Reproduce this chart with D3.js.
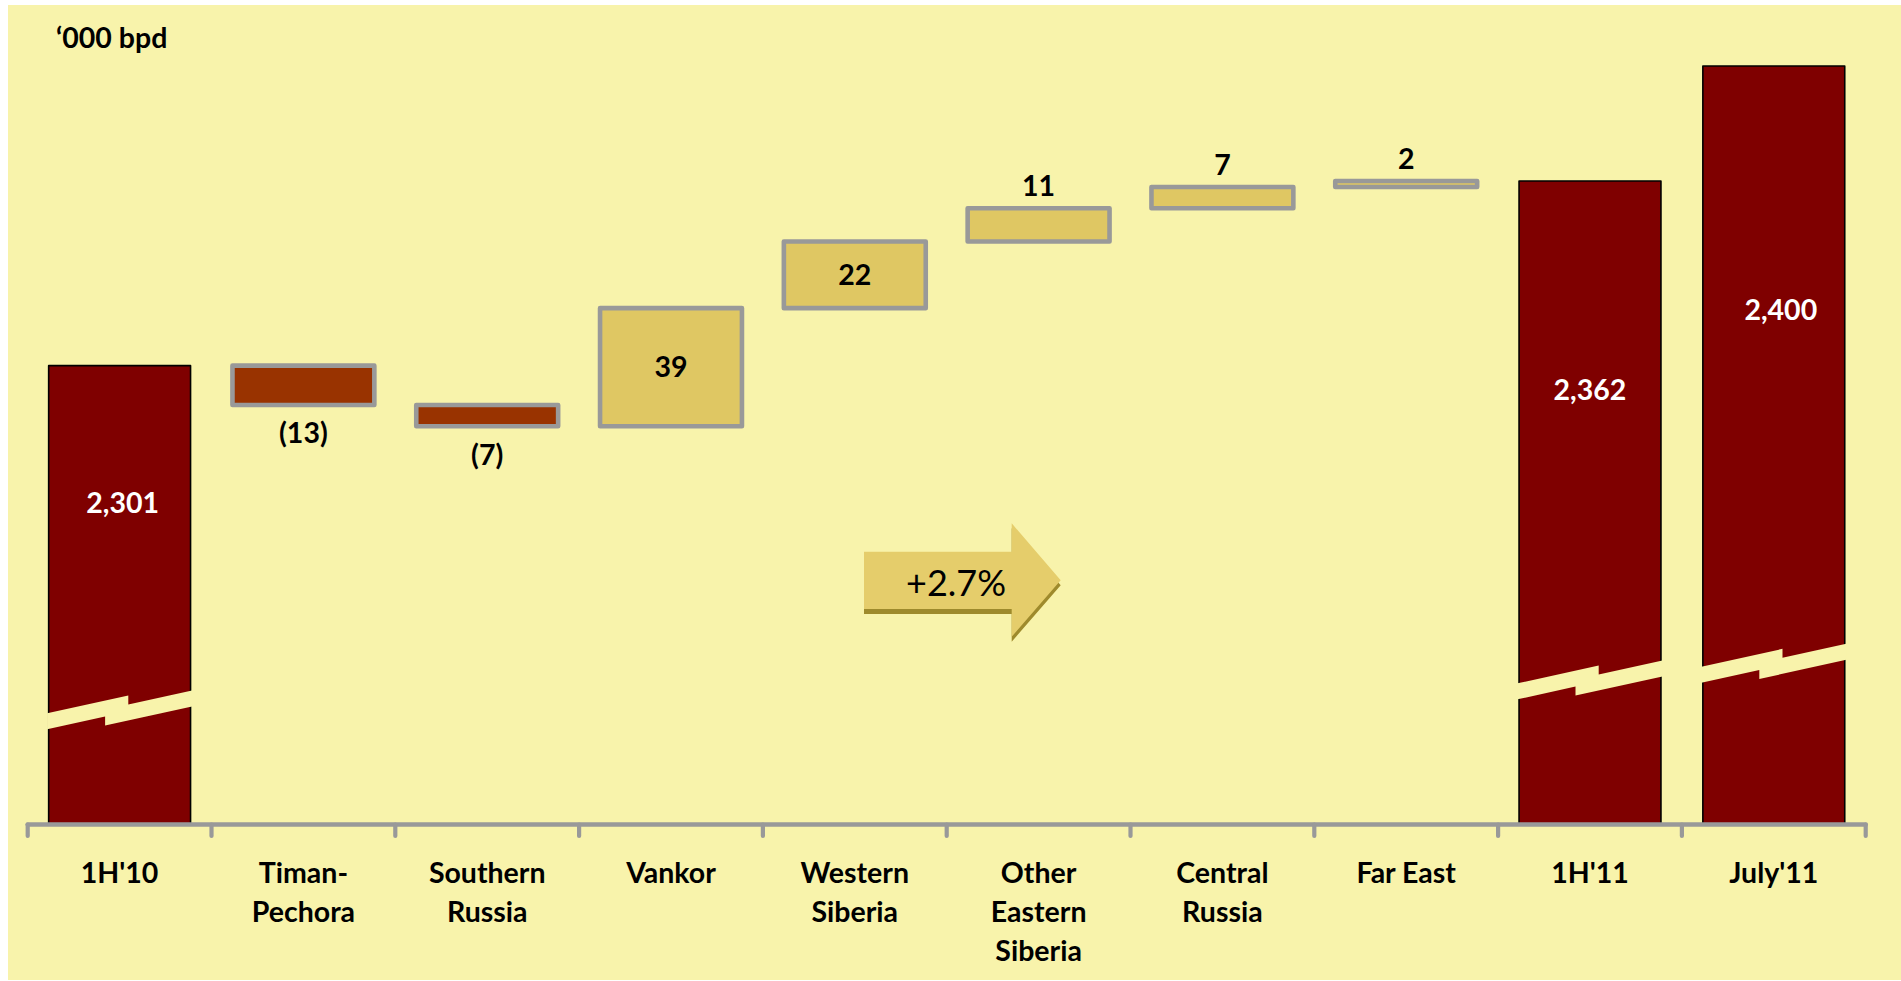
<!DOCTYPE html>
<html>
<head>
<meta charset="utf-8">
<script src="https://cdn.jsdelivr.net/npm/d3@7"></script>
<style>
  html, body { margin: 0; padding: 0; background: #ffffff; }
  svg { display: block; }
  text { font-family: Lato, "Open Sans", sans-serif; }
</style>
</head>
<body>
<svg id="chart" width="1901" height="981"></svg>
<script>
// ---------------- DATA ----------------
const categories = ["1H'10", "Timan-Pechora", "Southern Russia", "Vankor", "Western Siberia",
                    "Other Eastern Siberia", "Central Russia", "Far East", "1H'11", "July'11"];
const categoryLines = [["1H'10"], ["Timan-", "Pechora"], ["Southern", "Russia"], ["Vankor"],
                       ["Western", "Siberia"], ["Other", "Eastern", "Siberia"], ["Central", "Russia"],
                       ["Far East"], ["1H'11"], ["July'11"]];
const values = [2301, -13, -7, 39, 22, 11, 7, 2, 2362, 2400];
const barKinds = ["total", "delta", "delta", "delta", "delta", "delta", "delta", "delta", "total", "total"];
const valueLabels = ["2,301", "(13)", "(7)", "39", "22", "11", "7", "2", "2,362", "2,400"];
const unitLabel = "\u2018000 bpd";
const growthLabel = "+2.7%";
const axisBase = 2149.4;   // value at the (broken) baseline
const axisTop = 2400;

// ---------------- LAYOUT / STYLE ----------------
const W = 1901, H = 981;
const colors = {
  page: "#F8F3AB", total: "#7F0000", neg: "#993300", pos: "#DFC763",
  deltaStroke: "#999999", axis: "#999999", arrow: "#E5CD6B", arrowShadow: "#9E8A2C"
};
const fontSize = 28.5;
const plot = { left: 27.7, right: 1865.7, base: 824.5, top: 66 };
// break band centres (pixel y at bar's left edge) for total bars, and total label baselines
const totalLayout = {
  0: { breakY: 721.3, labelY: 513, dx: 3 },
  8: { breakY: 691.3, labelY: 400, dx: 0 },
  9: { breakY: 674.7, labelY: 320, dx: 7 }
};

const svg = d3.select("#chart");

svg.append("rect").attr("x", 8).attr("y", 5).attr("width", W - 8).attr("height", 975)
  .attr("fill", colors.page);

const x = d3.scaleBand().domain(categories).range([plot.left, plot.right])
  .paddingInner(0.228).paddingOuter(0.114);
const y = d3.scaleLinear().domain([axisBase, axisTop]).range([plot.base, plot.top]);

// waterfall computation
let running = 0;
const bars = categories.map((c, i) => {
  let lo, hi;
  if (barKinds[i] === "total") {
    running = values[i];
    lo = axisBase; hi = values[i];
  } else {
    const start = running;
    running += values[i];
    lo = Math.min(start, running); hi = Math.max(start, running);
  }
  return { cat: c, i, lo, hi, v: values[i], kind: barKinds[i], label: valueLabels[i] };
});

const g = svg.append("g");

// bars
g.selectAll("rect.bar").data(bars).join("rect")
  .attr("class", "bar")
  .attr("x", d => x(d.cat))
  .attr("width", x.bandwidth())
  .attr("y", d => y(d.hi))
  .attr("height", d => y(d.lo) - y(d.hi))
  .attr("fill", d => d.kind === "total" ? colors.total : (d.v < 0 ? colors.neg : colors.pos))
  .attr("stroke", d => d.kind === "total" ? "#000000" : colors.deltaStroke)
  .attr("stroke-width", d => d.kind === "total" ? 1.6 : 4.6)
  .attr("stroke-linejoin", "round");

// axis break bands on total bars
const slope = 0.22, thick = 16, step = 9;
bars.filter(d => d.kind === "total").forEach(d => {
  const xl = x(d.cat) - 1.5, w = x.bandwidth() + 3;
  const yc = totalLayout[d.i].breakY;
  const u = yc - thick / 2, l = yc + thick / 2;
  const su = 0.56 * w, sl = 0.40 * w;
  const pts = [
    [xl, u], [xl + su, u - slope * su], [xl + su, u - slope * su + step], [xl + w, u - slope * w + step],
    [xl + w, l - slope * w + step], [xl + sl, l - slope * sl + step], [xl + sl, l - slope * sl], [xl, l]
  ];
  g.append("path").attr("d", "M" + pts.map(p => p.join(",")).join("L") + "Z")
    .attr("fill", colors.page);
});

// axis
const axisG = svg.append("g");
axisG.append("line").attr("x1", plot.left).attr("x2", plot.right)
  .attr("y1", plot.base).attr("y2", plot.base)
  .attr("stroke", colors.axis).attr("stroke-width", 4.6).attr("stroke-linecap", "round");
const tickXs = categories.map(c => x(c) - x.step() * x.paddingInner() / 2);
tickXs.push(plot.right);
axisG.selectAll("line.tick").data(tickXs).join("line")
  .attr("class", "tick")
  .attr("x1", d => d).attr("x2", d => d)
  .attr("y1", plot.base).attr("y2", plot.base + 11.5)
  .attr("stroke", colors.axis).attr("stroke-width", 4.2).attr("stroke-linecap", "round");

// category labels
const catG = svg.append("g");
categories.forEach((c, i) => {
  const t = catG.append("text")
    .attr("x", x(c) + x.bandwidth() / 2)
    .attr("y", 883)
    .attr("text-anchor", "middle")
    .attr("font-size", fontSize).attr("font-weight", 700).attr("fill", "#000");
  categoryLines[i].forEach((line, k) => {
    t.append("tspan").attr("x", x(c) + x.bandwidth() / 2).attr("dy", k === 0 ? 0 : 39).text(line);
  });
});

// value labels
bars.forEach(d => {
  const cx = x(d.cat) + x.bandwidth() / 2;
  let ty, fill = "#000", dx = 0;
  if (d.kind === "total") {
    ty = totalLayout[d.i].labelY; fill = "#fff"; dx = totalLayout[d.i].dx;
  } else if (d.v < 0) {
    ty = y(d.lo) + 38.5;
  } else if (y(d.lo) - y(d.hi) > 40) {
    ty = (y(d.lo) + y(d.hi)) / 2 + 10;
  } else {
    ty = y(d.hi) - 12;
  }
  svg.append("text").attr("x", cx + dx).attr("y", ty)
    .attr("text-anchor", "middle").attr("font-size", fontSize).attr("font-weight", 700)
    .attr("fill", fill).text(d.label);
});

// unit label
svg.append("text").attr("x", 56).attr("y", 48)
  .attr("font-size", fontSize).attr("font-weight", 700).attr("fill", "#000").text(unitLabel);

// growth arrow
const arrow = { x0: 864, top: 551.7, bottom: 609, headX: 1011.7, headTop: 523.3, headBottom: 636.7, tipX: 1060.7 };
const arrowPath = d3.path();
arrowPath.moveTo(arrow.x0, arrow.top);
arrowPath.lineTo(arrow.headX, arrow.top);
arrowPath.lineTo(arrow.headX, arrow.headTop);
arrowPath.lineTo(arrow.tipX, (arrow.top + arrow.bottom) / 2);
arrowPath.lineTo(arrow.headX, arrow.headBottom);
arrowPath.lineTo(arrow.headX, arrow.bottom);
arrowPath.lineTo(arrow.x0, arrow.bottom);
arrowPath.closePath();
svg.append("path").attr("d", arrowPath.toString()).attr("transform", "translate(0,5)")
  .attr("fill", colors.arrowShadow);
svg.append("path").attr("d", arrowPath.toString()).attr("fill", colors.arrow);
svg.append("text").attr("x", 956).attr("y", 596).attr("text-anchor", "middle")
  .attr("font-size", 36).attr("font-weight", 400).attr("fill", "#000").text(growthLabel);
</script>
</body>
</html>
